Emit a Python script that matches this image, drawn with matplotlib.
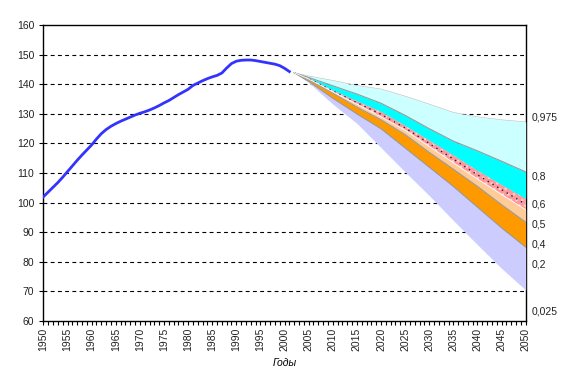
import matplotlib
matplotlib.use("Agg")
import matplotlib.pyplot as plt
import numpy as np

plt.rcParams['font.family'] = ['Liberation Sans', 'DejaVu Sans']

# Historical population (millions)
hist_years = list(range(1950, 2002))
hist_values = [102.0, 103.6, 105.2, 106.8, 108.6, 110.5, 112.4, 114.3, 116.1, 117.8,
               119.5, 121.5, 123.3, 124.7, 125.8, 126.7, 127.5, 128.2, 128.9, 129.6,
               130.2, 130.7, 131.3, 132.0, 132.8, 133.7, 134.5, 135.5, 136.5, 137.4,
               138.3, 139.6, 140.4, 141.2, 141.9, 142.5, 143.0, 143.8, 145.5, 147.0,
               147.8, 148.1, 148.2, 148.2, 148.0, 147.7, 147.4, 147.1, 146.8, 146.3,
               145.4, 144.3]

# Forecast quantiles
fc_years = [2002, 2005, 2010, 2015, 2020, 2025, 2030, 2035, 2040, 2045, 2050]
q025 = [143.9, 140.6, 133.3, 126.8, 118.6, 110.4, 102.4, 94.0, 85.8, 77.8, 70.5]
q20 = [143.9, 141.0, 135.3, 130.0, 125.0, 118.5, 112.0, 105.5, 98.5, 91.5, 85.0]
q40 = [143.9, 141.6, 137.0, 132.3, 128.0, 123.0, 117.0, 111.3, 105.5, 99.3, 93.4]
q50 = [143.9, 141.8, 137.5, 133.3, 129.0, 124.5, 119.0, 113.5, 108.0, 102.8, 97.6]
q60 = [143.9, 142.0, 138.0, 134.3, 130.7, 126.0, 121.0, 116.0, 110.8, 106.0, 101.3]
q80 = [143.9, 142.3, 139.5, 136.7, 133.6, 129.5, 125.0, 120.8, 117.5, 114.0, 110.4]
q975 = [143.9, 142.8, 141.3, 139.6, 138.4, 136.0, 133.3, 130.5, 129.0, 128.0, 127.3]

right_labels = ['0,975', '0,8', '0,6', '0,5', '0,4', '0,2', '0,025']
right_label_pos = [128.9, 108.9, 99.4, 92.6, 85.9, 79.1, 63.2]

fig = plt.figure(figsize=(5.81, 3.92), dpi=100)
ax = fig.add_axes([0.0747, 0.181, 0.8301, 0.755])

# grid
for v in range(70, 160, 10):
    ax.axhline(v, color='black', lw=0.8, ls=(0, (3.5, 3)), zorder=1)

yrs = np.array(fc_years)
bands = [
    (q025, q20, '#CCCCFF'),
    (q20, q40, '#FF9900'),
    (q40, q50, '#FFCC99'),
    (q60, q80, '#00FFFF'),
    (q80, q975, '#CCFFFF'),
]
for lo, hi, c in bands:
    ax.fill_between(yrs, lo, hi, color=c, lw=0, zorder=3)
ax.fill_between(yrs, q50, q60, facecolor='#FF9999', edgecolor='#FFD0D0',
                hatch='...', lw=0, zorder=3)
ax.plot(yrs, [(a + b) / 2 for a, b in zip(q50, q60)], color='#1a1a50', lw=1.0,
        ls=(0, (1, 3)), zorder=4)
for q in (q20, q40, q80):
    ax.plot(yrs, q, color='#999999', lw=0.8, zorder=4)
ax.plot(yrs, q975, color='#BBBBBB', lw=0.4, zorder=4)
ax.plot(yrs, q50, color='white', lw=0.6, zorder=4)

ax.plot(hist_years, hist_values, color='#3333FF', lw=2.0, zorder=5)

ax.set_xlim(1950, 2050)
ax.set_ylim(60, 160)
ax.set_yticks(range(60, 161, 10))
ax.set_xticks(range(1950, 2051, 5))
ax.set_xticks(range(1950, 2051, 1), minor=True)
ax.set_xticklabels([str(y) for y in range(1950, 2051, 5)], rotation=90)
ax.tick_params(axis='both', which='both', direction='out', length=3, width=0.8,
               labelsize=7.5, colors='black', labelcolor='#222222')
ax.tick_params(axis='x', pad=2)
for s in ax.spines.values():
    s.set_linewidth(1.0)
    s.set_color('black')

for lab, pos in zip(right_labels, right_label_pos):
    ax.text(2051.3, pos, lab, fontsize=7.5, va='center', ha='left',
            color='#222222', clip_on=False)

ax.set_xlabel('Годы', fontsize=7.5, style='italic', labelpad=5)

fig.savefig('out.png', dpi=100)
